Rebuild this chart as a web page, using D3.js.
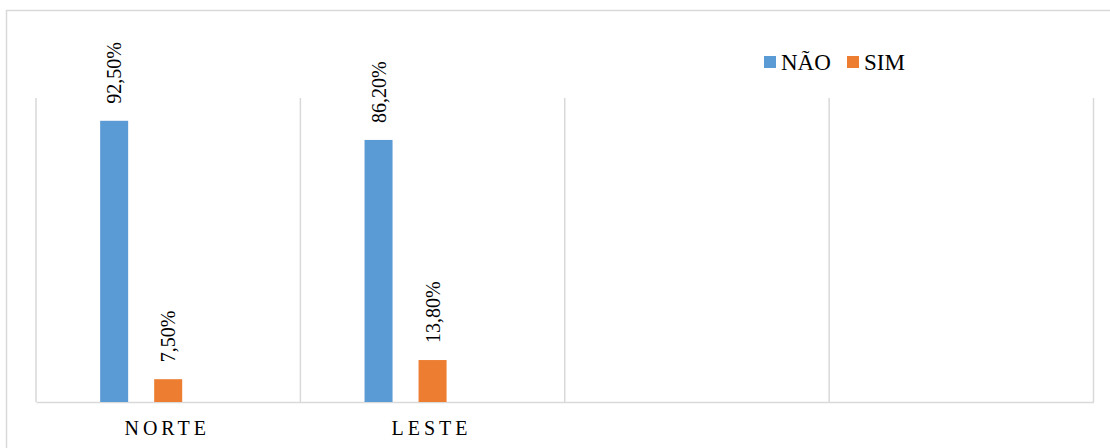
<!DOCTYPE html>
<html>
<head>
<meta charset="utf-8">
<script src="https://cdn.jsdelivr.net/npm/d3@7"></script>
<style>
  html, body { margin: 0; padding: 0; background: #fff; }
  svg { display: block; }
  svg text { font-family: "Liberation Serif", serif; }
</style>
</head>
<body>
<svg id="chart" width="1110" height="448" font-family="Liberation Serif"></svg>
<script>
// ---- data ----
const categories = ["NORTE", "LESTE", "", " "];
const seriesNames = ["NÃO", "SIM"];
const naoValues = [0.925, 0.862, null, null];
const simValues = [0.075, 0.138, null, null];
const labelTexts = { "NÃO": ["92,50%", "86,20%", null, null], "SIM": ["7,50%", "13,80%", null, null] };
const colors = { "NÃO": "#5B9BD5", "SIM": "#ED7D31" };

const FONT = "Liberation Serif";
const svg = d3.select("#chart");
const plot = { left: 36, right: 1093.5, top: 98, bottom: 402 };
const grid = "#d9d9d9";

// outer border
svg.append("rect")
  .attr("x", 6.5).attr("y", 10.5)
  .attr("width", 1200).attr("height", 600)
  .attr("fill", "none").attr("stroke", grid).attr("stroke-width", 1.5);

const x = d3.scaleBand().domain(categories).range([plot.left, plot.right]).paddingInner(0).paddingOuter(0);
// third (empty) slot keeps the original's placement of the two bars
const xs = d3.scaleBand().domain(["NÃO", "SIM", "_empty"]).range([0, x.bandwidth()])
  .paddingInner(26 / 54).paddingOuter(1.1875);
const y = d3.scaleLinear().domain([0, 1]).range([plot.bottom, plot.top]);

// vertical category gridlines
const bounds = categories.map(c => x(c)).concat([plot.right]);
svg.append("g").selectAll("line").data(bounds).join("line")
  .attr("x1", d => d).attr("x2", d => d)
  .attr("y1", plot.top).attr("y2", plot.bottom)
  .attr("stroke", grid).attr("stroke-width", 1.5);

// baseline axis
const xAxis = d3.axisBottom(x).tickSize(0).tickPadding(0);
const gx = svg.append("g").attr("transform", `translate(0,${plot.bottom})`).call(xAxis);
gx.attr("font-family", FONT).attr("font-size", 20);
gx.select(".domain").attr("stroke", grid).attr("stroke-width", 1.5);
gx.selectAll(".tick text")
  .attr("dy", null)
  .attr("y", 33)
  .attr("x", -1)
  .attr("font-family", FONT)
  .attr("font-size", 20)
  .attr("letter-spacing", 4)
  .attr("fill", "#000");

// bars
const seriesData = { "NÃO": naoValues, "SIM": simValues };
seriesNames.forEach(s => {
  const data = categories.map((c, i) => ({ c, v: seriesData[s][i], label: labelTexts[s][i] }))
    .filter(d => d.v != null);
  svg.append("g").selectAll("rect").data(data).join("rect")
    .attr("x", d => x(d.c) + xs(s))
    .attr("width", xs.bandwidth())
    .attr("y", d => y(d.v))
    .attr("height", d => y(0) - y(d.v))
    .attr("fill", colors[s]);
  svg.append("g").attr("font-family", FONT).attr("font-size", 20)
    .selectAll("text").data(data).join("text")
    .attr("transform", d => `translate(${x(d.c) + xs(s) + xs.bandwidth() / 2},${y(d.v) - 17}) rotate(-90)`)
    .attr("dy", "0.35em")
    .attr("text-anchor", "start")
    .attr("font-family", FONT)
    .attr("font-size", 20)
    .attr("fill", "#000")
    .text(d => d.label);
});

// legend
const legendX = [764, 847];
const lg = svg.append("g").attr("font-family", FONT).attr("font-size", 23);
seriesNames.forEach((s, i) => {
  lg.append("rect").attr("x", legendX[i]).attr("y", 56).attr("width", 12).attr("height", 12).attr("fill", colors[s]);
  lg.append("text").attr("x", legendX[i] + 17).attr("y", 70)
    .attr("font-family", FONT).attr("font-size", 23).attr("fill", "#000").text(s);
});
</script>
</body>
</html>
